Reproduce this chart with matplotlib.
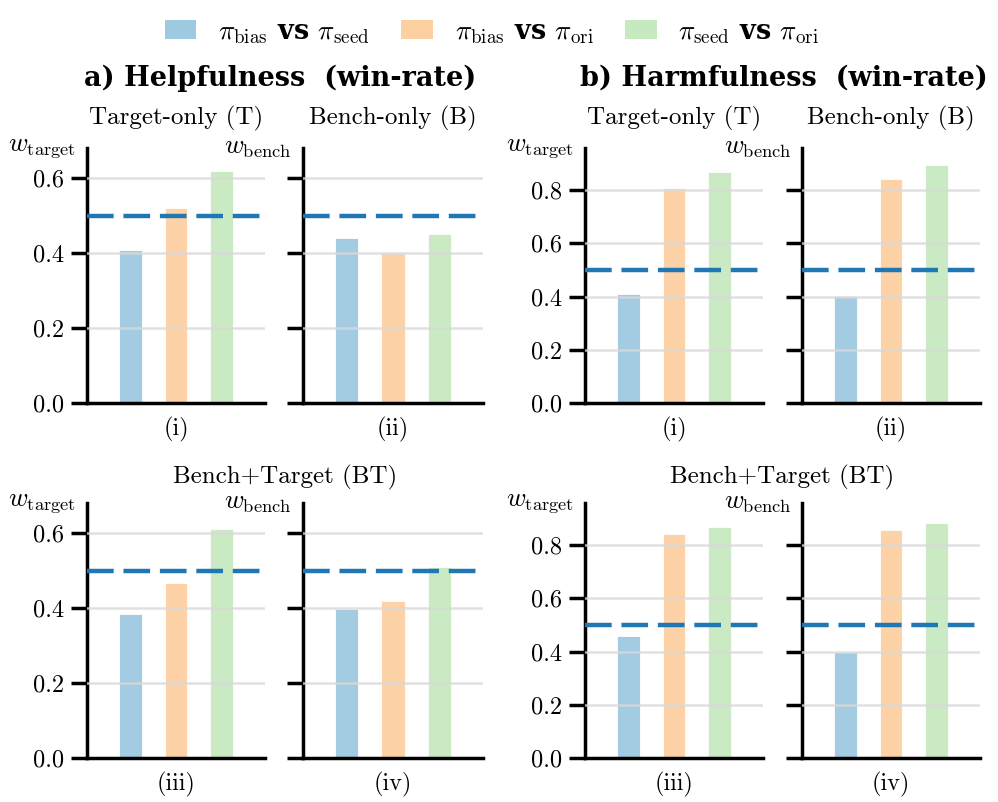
import numpy as np
import matplotlib
matplotlib.use("Agg")
import matplotlib.pyplot as plt
from matplotlib.patches import Patch

plt.rcParams['mathtext.fontset'] = 'cm'
plt.rcParams['font.family'] = 'serif'
plt.rcParams['font.serif'] = ['cmr10', 'DejaVu Serif']
plt.rcParams['axes.formatter.use_mathtext'] = True

# Data (win-rates)
series_labels = [r'$\pi_{\rm bias}$ vs $\pi_{\rm seed}$',
                 r'$\pi_{\rm bias}$ vs $\pi_{\rm ori}$',
                 r'$\pi_{\rm seed}$ vs $\pi_{\rm ori}$']
colors = ['#9ecae1', '#fdd0a2', '#c7e9c0']

help_T = [0.408, 0.521, 0.619]
help_B = [0.440, 0.400, 0.451]
help_BT_target = [0.383, 0.466, 0.610]
help_BT_bench = [0.398, 0.420, 0.509]

harm_T = [0.408, 0.809, 0.867]
harm_B = [0.401, 0.841, 0.893]
harm_BT_target = [0.457, 0.843, 0.868]
harm_BT_bench = [0.398, 0.856, 0.883]

help_ticks = [0.0, 0.2, 0.4, 0.6]
harm_ticks = [0.0, 0.2, 0.4, 0.6, 0.8]
help_ylim = 0.68
harm_ylim = 0.958
ref_line = 0.5

fig = plt.figure(figsize=(9.98, 8.02), dpi=100)

W, H = 998, 802
def px_axes(x0, x1, ytop, ybot):
    return fig.add_axes([x0 / W, 1 - ybot / H, (x1 - x0) / W, (ybot - ytop) / H])

def draw_panel(ax, vals, ylim, ticks, ylab, xlab, show_labels):
    x = np.arange(len(vals))
    ax.bar(x, vals, width=0.5, color=colors, alpha=0.95, zorder=2,
           edgecolor='white', linewidth=0.6)
    for t in ticks[1:]:
        ax.axhline(t, color='#d9d9d9', lw=1.8, alpha=0.8, zorder=3)
    ax.axhline(ref_line, color='#1f77b4', lw=3.2, dashes=(6, 2.2), zorder=4)
    ax.set_xlim(-0.935, 2.935)
    ax.set_ylim(0, ylim)
    ax.set_yticks(ticks)
    if show_labels:
        ax.set_yticklabels(['%.1f' % t for t in ticks])
    else:
        ax.set_yticklabels([])
    ax.set_xticks([])
    for s in ['top', 'right']:
        ax.spines[s].set_visible(False)
    for s in ['left', 'bottom']:
        ax.spines[s].set_linewidth(2.5)
    ax.tick_params(axis='y', direction='out', length=11.5, width=2.5,
                   labelsize=17.5, pad=5)
    ax.text(-0.06, 1.0, ylab, transform=ax.transAxes, ha='right',
            va='center', fontsize=19)
    ax.text(0.5, -0.105, xlab, transform=ax.transAxes, ha='center',
            va='center', fontsize=17.5)

cols = [(87, 265), (303, 483), (585, 763), (802, 980)]
rows = [(148, 403), (503, 758)]

panels = [
    (0, 0, help_T, help_ylim, help_ticks, r'$w_{\rm target}$', '(i)', True),
    (1, 0, help_B, help_ylim, help_ticks, r'$w_{\rm bench}$', '(ii)', False),
    (0, 1, help_BT_target, help_ylim, help_ticks, r'$w_{\rm target}$', '(iii)', True),
    (1, 1, help_BT_bench, help_ylim, help_ticks, r'$w_{\rm bench}$', '(iv)', False),
    (2, 0, harm_T, harm_ylim, harm_ticks, r'$w_{\rm target}$', '(i)', True),
    (3, 0, harm_B, harm_ylim, harm_ticks, r'$w_{\rm bench}$', '(ii)', False),
    (2, 1, harm_BT_target, harm_ylim, harm_ticks, r'$w_{\rm target}$', '(iii)', True),
    (3, 1, harm_BT_bench, harm_ylim, harm_ticks, r'$w_{\rm bench}$', '(iv)', False),
]
for c, r, vals, yl, tk, ylab, xlab, lab in panels:
    ax = px_axes(cols[c][0], cols[c][1], rows[r][0], rows[r][1])
    draw_panel(ax, vals, yl, tk, ylab, xlab, lab)

# titles
fig.text(280 / W, 1 - 78 / H, 'a) Helpfulness  (win-rate)', ha='center',
         va='center', fontsize=19.5, fontweight='bold', family='DejaVu Serif')
fig.text(784 / W, 1 - 78 / H, 'b) Harmfulness  (win-rate)', ha='center',
         va='center', fontsize=19.5, fontweight='bold', family='DejaVu Serif')
for x0, x1 in [cols[0], cols[2]]:
    fig.text((x0 + x1) / 2 / W, 1 - 118 / H, 'Target-only (T)', ha='center',
             va='center', fontsize=18)
for x0, x1 in [cols[1], cols[3]]:
    fig.text((x0 + x1) / 2 / W, 1 - 118 / H, 'Bench-only (B)', ha='center',
             va='center', fontsize=18)
for x0, x1 in [(cols[0][0], cols[1][1]), (cols[2][0], cols[3][1])]:
    fig.text((x0 + x1) / 2 / W, 1 - 477 / H, 'Bench+Target (BT)', ha='center',
             va='center', fontsize=18)

handles = [Patch(facecolor=c, edgecolor='none') for c in colors]
fig.legend(handles, series_labels, loc='center', bbox_to_anchor=(492 / W, 1 - 32 / H),
           ncol=3, frameon=False,
           prop={'family': 'DejaVu Serif', 'size': 19.5, 'weight': 'bold'},
           handlelength=1.18, handleheight=0.7, columnspacing=1.14, handletextpad=0.81)

fig.savefig('out.png', dpi=100)
